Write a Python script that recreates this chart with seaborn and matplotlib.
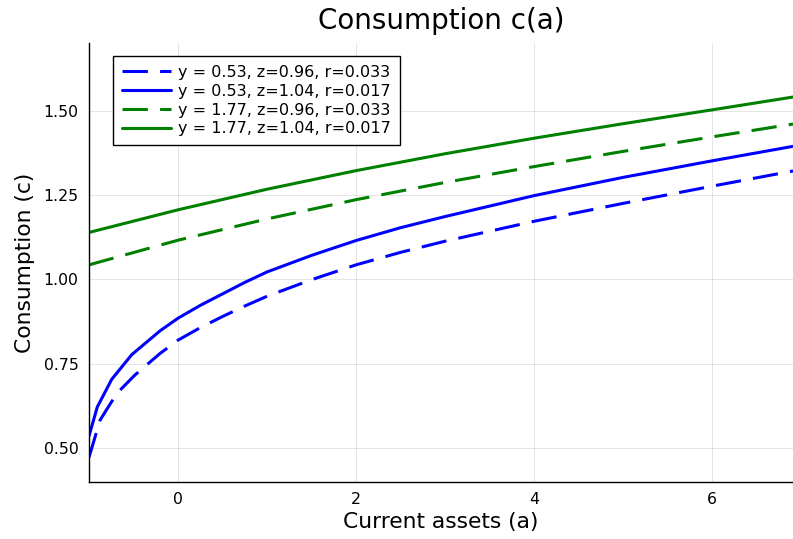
import numpy as np
import pandas as pd
import matplotlib
matplotlib.use("Agg")
import matplotlib.pyplot as plt
import seaborn as sns

# Consumption policy c(a) on the asset grid, for two income levels (y)
# and two (z, r) regimes.
a_blue_dash = [-1.0, -0.876, -0.753, -0.67, -0.483, -0.2, 0.0, 0.25, 0.5, 0.75, 1.0, 1.5,
               2.0, 2.5, 3.0, 4.0, 5.0, 6.0, 6.91]
c_blue_dash = [0.473, 0.583, 0.635, 0.667, 0.717, 0.781, 0.820, 0.857, 0.890, 0.921, 0.950, 0.999,
               1.043, 1.080, 1.113, 1.172, 1.225, 1.276, 1.321]

a_blue_solid = [-1.0, -0.907, -0.745, -0.52, -0.2, 0.0, 0.25, 0.5, 0.75, 1.0, 1.5,
                2.0, 2.5, 3.0, 4.0, 5.0, 6.0, 6.91]
c_blue_solid = [0.536, 0.622, 0.704, 0.777, 0.848, 0.885, 0.923, 0.957, 0.991, 1.022, 1.071,
                1.115, 1.153, 1.186, 1.248, 1.302, 1.351, 1.394]

a_green = [-1.0, 0.0, 1.0, 2.0, 3.0, 4.0, 5.0, 6.0, 6.91]
c_green_dash = [1.043, 1.116, 1.179, 1.236, 1.287, 1.334, 1.379, 1.422, 1.460]
c_green_solid = [1.139, 1.206, 1.267, 1.322, 1.372, 1.418, 1.461, 1.502, 1.540]

labels = [
    "y = 0.53, z=0.96, r=0.033",
    "y = 0.53, z=1.04, r=0.017",
    "y = 1.77, z=0.96, r=0.033",
    "y = 1.77, z=1.04, r=0.017",
]

x_ticks = [0, 2, 4, 6]
y_ticks = [0.50, 0.75, 1.00, 1.25, 1.50]

sns.set_theme(style="white")
plt.rcParams["font.family"] = ["DejaVu Sans"]
plt.rcParams["text.color"] = "black"
plt.rcParams["axes.labelcolor"] = "black"

fig = plt.figure(figsize=(7.93, 5.39), dpi=100)
ax = fig.add_axes([89 / 793, 1 - 482 / 539, 1 - 89 / 793, (482 - 43) / 539])

dash = (0, (8.3, 4.0))
series = [
    (a_blue_dash, c_blue_dash, "#0000ff", dash, labels[0]),
    (a_blue_solid, c_blue_solid, "#0000ff", "-", labels[1]),
    (a_green, c_green_dash, "#008000", dash, labels[2]),
    (a_green, c_green_solid, "#008000", "-", labels[3]),
]
for xs, ys, col, ls, lab in series:
    df = pd.DataFrame({"a": xs, "c": ys})
    sns.lineplot(data=df, x="a", y="c", ax=ax, color=col, linestyle=ls,
                 linewidth=2.2, label=lab, sort=False)

ax.set_xlim(-1.0, 6.91)
ax.set_ylim(0.40, 1.70)
ax.set_xticks(x_ticks)
ax.set_yticks(y_ticks)
ax.set_xticklabels([str(t) for t in x_ticks])
ax.set_yticklabels([f"{t:.2f}" for t in y_ticks])

ax.grid(True, color="black", alpha=0.1, linewidth=0.8)
for side in ["top", "right"]:
    ax.spines[side].set_visible(False)
for side in ["left", "bottom"]:
    ax.spines[side].set_color("black")
    ax.spines[side].set_linewidth(1.0)

ax.tick_params(axis="both", direction="in", length=4, width=0.9,
               colors="black", labelsize=11.3, labelcolor="black")
ax.tick_params(axis="y", pad=7.5)
ax.tick_params(axis="x", pad=7)

ax.set_title("Consumption c(a)", fontsize=20, pad=10, color="black")
ax.set_xlabel("Current assets (a)", fontsize=15.7, labelpad=4)
ax.set_ylabel("Consumption (c)", fontsize=15.7, labelpad=6)

leg = ax.legend(loc="upper left", bbox_to_anchor=(0.034, 0.970),
                borderaxespad=0, fontsize=11.5, labelspacing=0.24,
                handlelength=3.1, handletextpad=0.45, borderpad=0.55,
                frameon=True, fancybox=False, framealpha=1.0)
leg.get_frame().set_edgecolor("black")
leg.get_frame().set_linewidth(1.0)

fig.savefig("out.png", dpi=100)
